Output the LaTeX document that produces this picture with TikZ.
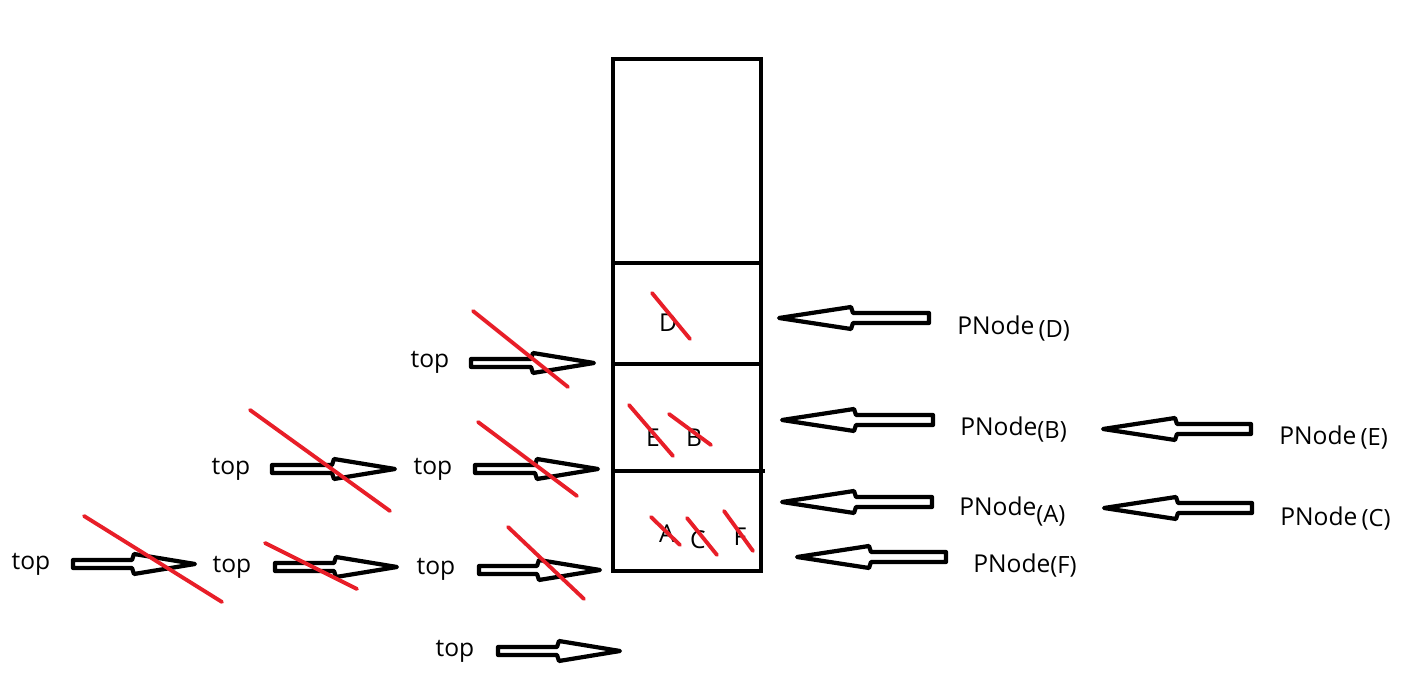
\documentclass[tikz,border=0pt]{standalone}
\usepackage{fontspec}
\setmainfont{Open Sans}
\definecolor{strikered}{RGB}{232,30,40}

\tikzset{
  stackline/.style={line width=2.8pt},
  hollow/.style={line width=2.4pt, line join=round},
  strike/.style={strikered, line width=2.2pt, line cap=round},
  lbl/.style={font=\fontsize{14}{16}\selectfont, inner sep=0pt, yshift=-1.5pt},
}

% right pointing hollow arrow: start x, tip x, y
\newcommand{\toparrow}[3]{%
  \draw[hollow] (#1,#3-4) -- (#2-63,#3-4) -- (#2-61,#3-10) -- (#2,#3)
    -- (#2-61,#3+10) -- (#2-63,#3+4) -- (#1,#3+4) -- cycle;}
% left pointing hollow arrow: tip x, end x, y
\newcommand{\pnarrow}[3]{%
  \draw[hollow] (#2,#3-5) -- (#1+74,#3-5) -- (#1+72,#3-11) -- (#1,#3)
    -- (#1+72,#3+11) -- (#1+74,#3+5) -- (#2,#3+5) -- cycle;}
\newcommand{\paren}[2]{\raisebox{#1}{\fontsize{13.5}{15}\selectfont (#2)}}

\begin{document}
\begin{tikzpicture}[x=0.02cm, y=-0.02cm]
\useasboundingbox[fill=white] (0,0) rectangle (1414,678);

% the stack
\draw[stackline] (613,59) rectangle (761,571);
\draw[stackline] (613,263) -- (761,263);
\draw[stackline] (613,364) -- (761,364);
\draw[stackline] (613,471) -- (765,471);

% elements in the stack
\node[lbl] (D) at (668,320) {D};
\node[lbl] (E) at (653,435) {E};
\node[lbl] (B) at (694,435) {B};
\node[lbl] (A) at (667,531) {A};
\node[lbl] (C) at (698,537) {C};
\node[lbl] (F) at (740,534) {F};
\draw[strike] (652,293) -- (690,339);
\draw[strike] (629,405) -- (673,456);
\draw[strike] (669,414) -- (711,445);
\draw[strike] (651,517) -- (680,545);
\draw[strike] (687,518) -- (717,555);
\draw[strike] (724,511) -- (753,551);

% top pointers
\node[lbl] (t1) at (430,360) {top};
\node[lbl] (t2) at (231,467) {top};
\node[lbl] (t3) at (433,467) {top};
\node[lbl] (t4) at (31,562) {top};
\node[lbl] (t5) at (232,565) {top};
\node[lbl] (t6) at (436,567) {top};
\node[lbl] (t7) at (455,649) {top};
\toparrow{471}{594}{363}
\toparrow{272}{395}{469}
\toparrow{475}{598}{469}
\toparrow{73}{195}{564}
\toparrow{275}{397}{567}
\toparrow{479}{600}{570}
\toparrow{498}{620}{651}
\draw[strike] (473,311) -- (568,387);
\draw[strike] (250,410) -- (390,511);
\draw[strike] (478,422) -- (577,496);
\draw[strike] (84,516) -- (222,602);
\draw[strike] (265,543) -- (357,589);
\draw[strike] (508,527) -- (584,599);

% PNode pointers
\node[lbl, anchor=west] (pD) at (957,326) {PNode\,\paren{-2pt}{D}};
\node[lbl, anchor=west] (pB) at (960,427) {PNode\paren{-2pt}{B}};
\node[lbl, anchor=west] (pA) at (959,509) {PNode\paren{-4pt}{A}};
\node[lbl, anchor=west] (pF) at (973,563) {PNode\paren{-1pt}{F}};
\node[lbl, anchor=west] (pE) at (1279,435) {PNode\,\paren{-1pt}{E}};
\node[lbl, anchor=west] (pC) at (1280,516) {PNode\,\paren{-1pt}{C}};
\pnarrow{779}{929}{318}
\pnarrow{782}{933}{420}
\pnarrow{782}{932}{502}
\pnarrow{797}{946}{557}
\pnarrow{1103}{1251}{429}
\pnarrow{1104}{1252}{508}
\end{tikzpicture}
\end{document}
